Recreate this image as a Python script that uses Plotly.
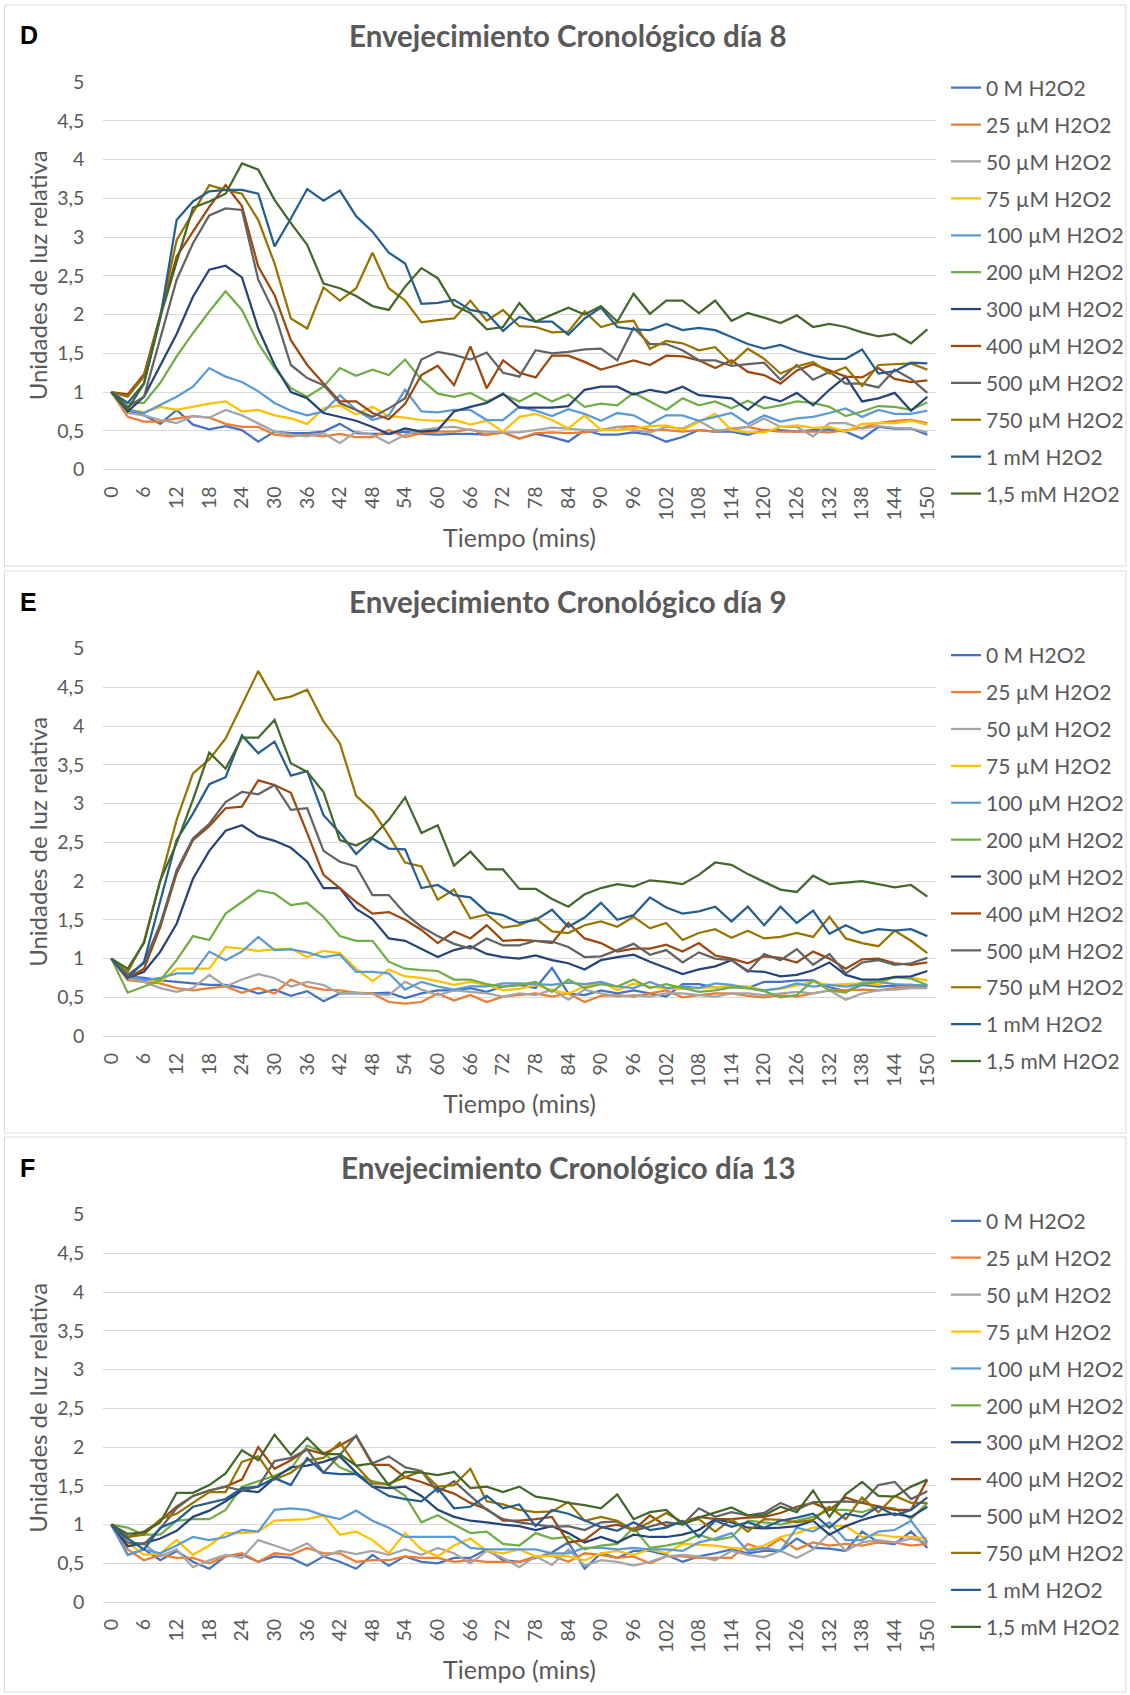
import plotly.graph_objects as go

# ---------------- data ----------------
TIME = list(range(0, 151, 3))
X_TICKS = list(range(0, 151, 6))
Y_TICKS = [0, 0.5, 1, 1.5, 2, 2.5, 3, 3.5, 4, 4.5, 5]

SERIES_NAMES = ["0 M H2O2", "25 µM H2O2", "50 µM H2O2", "75 µM H2O2", "100 µM H2O2",
                "200 µM H2O2", "300 µM H2O2", "400 µM H2O2", "500 µM H2O2",
                "750 µM H2O2", "1 mM H2O2", "1,5 mM H2O2"]
SERIES_COLORS = ["#4472C4", "#ED7D31", "#A5A5A5", "#FFC000", "#5B9BD5", "#70AD47",
                 "#264478", "#9E480E", "#636363", "#997300", "#255E91", "#43682B"]

PANEL_LETTERS = ["D", "E", "F"]
PANEL_TITLES = ["Envejecimiento Cronológico día 8",
                "Envejecimiento Cronológico día 9",
                "Envejecimiento Cronológico día 13"]
Y_TITLE = "Unidades de luz relativa"
X_TITLE = "Tiempo (mins)"

# ---- Panel D (día 8) ----
D_0M = [1.00, 0.76, 0.70, 0.59, 0.77, 0.58, 0.52, 0.56, 0.51, 0.36, 0.49, 0.47, 0.47, 0.49, 0.59, 0.47, 0.46,
        0.46, 0.49, 0.46, 0.45, 0.46, 0.46, 0.45, 0.48, 0.40, 0.46, 0.42, 0.36, 0.51, 0.45, 0.45, 0.48, 0.45,
        0.36, 0.42, 0.51, 0.49, 0.49, 0.45, 0.51, 0.51, 0.49, 0.51, 0.52, 0.49, 0.40, 0.55, 0.53, 0.53, 0.45]
D_25 = [1.00, 0.68, 0.62, 0.62, 0.66, 0.69, 0.67, 0.59, 0.55, 0.55, 0.45, 0.43, 0.45, 0.43, 0.46, 0.42, 0.42,
        0.51, 0.42, 0.47, 0.49, 0.49, 0.52, 0.45, 0.48, 0.40, 0.47, 0.48, 0.47, 0.48, 0.51, 0.55, 0.56, 0.51,
        0.51, 0.49, 0.51, 0.49, 0.53, 0.55, 0.51, 0.49, 0.49, 0.49, 0.48, 0.51, 0.54, 0.60, 0.63, 0.64, 0.60]
D_50 = [1.00, 0.73, 0.70, 0.64, 0.60, 0.69, 0.67, 0.77, 0.70, 0.60, 0.49, 0.45, 0.43, 0.47, 0.34, 0.49, 0.45,
        0.34, 0.45, 0.51, 0.54, 0.55, 0.51, 0.49, 0.48, 0.48, 0.51, 0.54, 0.53, 0.51, 0.51, 0.55, 0.51, 0.48,
        0.55, 0.53, 0.63, 0.51, 0.51, 0.55, 0.66, 0.55, 0.55, 0.43, 0.60, 0.60, 0.53, 0.56, 0.54, 0.53, 0.48]
D_75 = [1.00, 0.78, 0.74, 0.81, 0.77, 0.81, 0.85, 0.88, 0.75, 0.77, 0.70, 0.66, 0.59, 0.79, 0.83, 0.71, 0.81,
        0.69, 0.67, 0.64, 0.63, 0.64, 0.58, 0.63, 0.49, 0.68, 0.72, 0.64, 0.53, 0.70, 0.51, 0.51, 0.53, 0.56,
        0.57, 0.51, 0.62, 0.72, 0.51, 0.48, 0.48, 0.55, 0.57, 0.54, 0.55, 0.49, 0.59, 0.60, 0.60, 0.63, 0.58]
D_100 = [1.00, 0.77, 0.73, 0.83, 0.94, 1.07, 1.31, 1.20, 1.13, 1.01, 0.86, 0.76, 0.70, 0.75, 0.96, 0.77, 0.64,
         0.70, 1.03, 0.75, 0.74, 0.77, 0.77, 0.64, 0.64, 0.81, 0.76, 0.69, 0.78, 0.72, 0.63, 0.73, 0.70, 0.59,
         0.70, 0.70, 0.63, 0.68, 0.73, 0.59, 0.70, 0.62, 0.66, 0.68, 0.73, 0.79, 0.68, 0.77, 0.72, 0.72, 0.76]
D_200 = [1.00, 0.86, 0.86, 1.12, 1.46, 1.76, 2.04, 2.30, 2.06, 1.63, 1.31, 1.05, 0.94, 1.07, 1.31, 1.21, 1.29,
         1.22, 1.42, 1.16, 0.98, 0.94, 0.99, 0.88, 0.97, 0.88, 0.99, 0.88, 0.97, 0.81, 0.85, 0.83, 0.99, 0.88,
         0.77, 0.92, 0.83, 0.88, 0.79, 0.89, 0.79, 0.83, 0.88, 0.86, 0.81, 0.69, 0.75, 0.82, 0.81, 0.77, 0.87]
D_300 = [1.00, 0.75, 0.94, 1.35, 1.75, 2.23, 2.58, 2.63, 2.48, 1.82, 1.35, 1.00, 0.92, 0.73, 0.68, 0.63, 0.55,
         0.46, 0.53, 0.49, 0.51, 0.75, 0.81, 0.86, 0.98, 0.80, 0.80, 0.80, 0.82, 1.03, 1.07, 1.07, 0.97, 1.03,
         0.99, 1.07, 0.96, 0.94, 0.92, 0.77, 0.94, 0.88, 0.99, 0.83, 1.03, 1.20, 0.88, 0.92, 0.99, 0.76, 0.94]
D_400 = [1.00, 0.97, 1.23, 1.98, 2.75, 3.07, 3.39, 3.67, 3.40, 2.62, 2.25, 1.67, 1.35, 1.11, 0.88, 0.88, 0.73,
         0.65, 0.85, 1.22, 1.34, 1.09, 1.59, 1.05, 1.41, 1.25, 1.19, 1.47, 1.47, 1.39, 1.29, 1.35, 1.41, 1.35,
         1.47, 1.46, 1.41, 1.31, 1.41, 1.26, 1.22, 1.11, 1.28, 1.36, 1.28, 1.20, 1.19, 1.31, 1.17, 1.13, 1.15]
D_500 = [1.00, 0.81, 0.94, 1.71, 2.45, 2.92, 3.28, 3.37, 3.35, 2.45, 2.02, 1.35, 1.18, 1.09, 0.86, 0.77, 0.68,
         0.79, 0.92, 1.42, 1.52, 1.48, 1.42, 1.51, 1.25, 1.20, 1.54, 1.50, 1.52, 1.55, 1.56, 1.41, 1.83, 1.62,
         1.62, 1.54, 1.41, 1.41, 1.34, 1.36, 1.38, 1.16, 1.35, 1.16, 1.26, 1.11, 1.11, 1.06, 1.29, 1.17, 0.99]
D_750 = [1.00, 0.94, 1.20, 1.99, 2.96, 3.31, 3.67, 3.61, 3.56, 3.22, 2.66, 1.95, 1.82, 2.35, 2.18, 2.34, 2.80,
         2.34, 2.18, 1.90, 1.93, 1.95, 2.18, 1.92, 2.06, 1.85, 1.84, 1.77, 1.78, 2.04, 1.84, 1.90, 1.92, 1.56,
         1.66, 1.63, 1.54, 1.58, 1.37, 1.56, 1.43, 1.24, 1.33, 1.39, 1.24, 1.32, 1.08, 1.35, 1.36, 1.37, 1.29]
D_1MM = [1.00, 0.86, 1.11, 1.96, 3.22, 3.46, 3.59, 3.61, 3.61, 3.56, 2.88, 3.24, 3.62, 3.47, 3.60, 3.27, 3.07,
         2.80, 2.66, 2.14, 2.15, 2.19, 2.06, 2.02, 1.79, 1.97, 1.91, 1.91, 1.74, 1.95, 2.09, 1.84, 1.81, 1.80,
         1.88, 1.80, 1.83, 1.80, 1.71, 1.62, 1.56, 1.61, 1.53, 1.47, 1.43, 1.43, 1.55, 1.24, 1.27, 1.38, 1.37]
D_15MM = [1.00, 0.78, 1.11, 1.97, 2.68, 3.38, 3.46, 3.56, 3.95, 3.87, 3.48, 3.18, 2.90, 2.40, 2.34, 2.24, 2.11,
          2.06, 2.36, 2.60, 2.47, 2.12, 2.02, 1.81, 1.84, 2.15, 1.91, 2.00, 2.09, 2.00, 2.11, 1.91, 2.27, 2.01,
          2.18, 2.18, 2.02, 2.18, 1.92, 2.02, 1.96, 1.89, 1.99, 1.84, 1.88, 1.84, 1.77, 1.72, 1.75, 1.63, 1.81]

# ---- Panel E (día 9) ----
E_0M = [1.00, 0.77, 0.75, 0.72, 0.70, 0.68, 0.66, 0.66, 0.62, 0.55, 0.60, 0.52, 0.58, 0.45, 0.55, 0.55, 0.55,
        0.56, 0.49, 0.55, 0.59, 0.59, 0.62, 0.57, 0.64, 0.66, 0.62, 0.88, 0.55, 0.53, 0.59, 0.55, 0.59, 0.55,
        0.51, 0.67, 0.67, 0.63, 0.64, 0.62, 0.70, 0.70, 0.72, 0.72, 0.63, 0.58, 0.66, 0.64, 0.65, 0.66, 0.64]
E_25 = [1.00, 0.72, 0.70, 0.68, 0.62, 0.59, 0.62, 0.64, 0.56, 0.62, 0.55, 0.73, 0.64, 0.60, 0.59, 0.56, 0.55,
        0.44, 0.42, 0.44, 0.55, 0.46, 0.53, 0.44, 0.51, 0.53, 0.55, 0.51, 0.55, 0.44, 0.52, 0.53, 0.51, 0.55,
        0.59, 0.50, 0.53, 0.55, 0.55, 0.52, 0.50, 0.53, 0.51, 0.55, 0.59, 0.59, 0.60, 0.59, 0.62, 0.64, 0.66]
E_50 = [1.00, 0.75, 0.70, 0.62, 0.57, 0.62, 0.79, 0.64, 0.73, 0.80, 0.75, 0.64, 0.70, 0.66, 0.55, 0.56, 0.54,
        0.53, 0.70, 0.60, 0.53, 0.59, 0.57, 0.55, 0.51, 0.55, 0.53, 0.60, 0.47, 0.60, 0.55, 0.51, 0.53, 0.51,
        0.55, 0.55, 0.53, 0.51, 0.55, 0.55, 0.53, 0.55, 0.57, 0.55, 0.59, 0.47, 0.55, 0.59, 0.60, 0.62, 0.62]
E_75 = [1.00, 0.77, 0.72, 0.70, 0.87, 0.87, 0.87, 1.15, 1.13, 1.10, 1.12, 1.13, 1.02, 1.10, 1.07, 0.87, 0.71,
        0.86, 0.77, 0.75, 0.71, 0.66, 0.70, 0.66, 0.59, 0.61, 0.66, 0.59, 0.55, 0.64, 0.70, 0.59, 0.68, 0.64,
        0.61, 0.61, 0.62, 0.63, 0.64, 0.64, 0.59, 0.61, 0.66, 0.70, 0.66, 0.67, 0.68, 0.66, 0.77, 0.75, 0.72]
E_100 = [1.00, 0.77, 0.72, 0.75, 0.81, 0.81, 1.09, 0.98, 1.09, 1.28, 1.11, 1.12, 1.08, 1.02, 1.05, 0.83, 0.83,
         0.81, 0.60, 0.70, 0.64, 0.60, 0.64, 0.64, 0.68, 0.68, 0.67, 0.66, 0.69, 0.67, 0.70, 0.64, 0.62, 0.70,
         0.62, 0.64, 0.62, 0.68, 0.66, 0.62, 0.59, 0.62, 0.68, 0.64, 0.66, 0.64, 0.67, 0.70, 0.67, 0.66, 0.65]
E_200 = [1.00, 0.56, 0.64, 0.72, 0.98, 1.29, 1.24, 1.58, 1.73, 1.88, 1.84, 1.69, 1.72, 1.54, 1.29, 1.23, 1.23,
         0.96, 0.87, 0.85, 0.84, 0.73, 0.73, 0.67, 0.64, 0.66, 0.70, 0.57, 0.73, 0.62, 0.67, 0.64, 0.73, 0.62,
         0.67, 0.62, 0.57, 0.59, 0.63, 0.62, 0.58, 0.50, 0.53, 0.72, 0.59, 0.56, 0.69, 0.70, 0.76, 0.74, 0.66]
E_300 = [1.00, 0.75, 0.83, 1.09, 1.45, 2.03, 2.39, 2.65, 2.72, 2.58, 2.52, 2.43, 2.25, 1.91, 1.91, 1.64, 1.51,
         1.26, 1.23, 1.13, 1.02, 1.11, 1.16, 1.06, 1.02, 1.00, 1.04, 0.98, 0.94, 0.86, 0.98, 1.02, 1.05, 0.96,
         0.88, 0.80, 0.86, 0.90, 0.98, 0.84, 0.83, 0.77, 0.79, 0.85, 0.95, 0.79, 0.73, 0.73, 0.76, 0.77, 0.84]
E_400 = [1.00, 0.75, 0.87, 1.41, 2.10, 2.53, 2.71, 2.94, 2.96, 3.30, 3.24, 3.14, 2.62, 2.08, 1.91, 1.73, 1.58,
         1.60, 1.50, 1.37, 1.20, 1.35, 1.26, 1.43, 1.23, 1.24, 1.23, 1.20, 1.46, 1.26, 1.20, 1.09, 1.13, 1.13,
         1.18, 1.09, 1.20, 1.04, 1.00, 0.94, 1.03, 1.01, 0.95, 1.09, 1.00, 0.87, 0.99, 1.00, 0.94, 0.92, 0.95]
E_500 = [1.00, 0.79, 0.94, 1.45, 2.14, 2.55, 2.74, 3.02, 3.15, 3.12, 3.24, 2.92, 2.94, 2.39, 2.25, 2.19, 1.82,
         1.82, 1.58, 1.41, 1.29, 1.19, 1.13, 1.26, 1.17, 1.17, 1.23, 1.22, 1.15, 1.02, 1.03, 1.11, 1.19, 1.05,
         1.11, 0.95, 1.08, 1.00, 0.98, 0.83, 1.06, 0.98, 1.12, 0.92, 1.06, 0.81, 0.95, 0.98, 0.92, 0.94, 1.01]
E_750 = [1.00, 0.83, 1.22, 2.01, 2.79, 3.39, 3.57, 3.84, 4.27, 4.71, 4.34, 4.38, 4.47, 4.06, 3.78, 3.10, 2.91,
         2.59, 2.24, 2.19, 1.76, 1.89, 1.52, 1.57, 1.40, 1.43, 1.52, 1.35, 1.33, 1.43, 1.48, 1.41, 1.54, 1.39,
         1.46, 1.24, 1.33, 1.38, 1.27, 1.36, 1.26, 1.28, 1.33, 1.28, 1.54, 1.26, 1.20, 1.16, 1.36, 1.23, 1.07]
E_1MM = [1.00, 0.75, 0.96, 1.76, 2.53, 2.87, 3.25, 3.34, 3.88, 3.65, 3.80, 3.36, 3.42, 2.85, 2.62, 2.35, 2.55,
         2.42, 2.41, 1.91, 1.95, 1.82, 1.79, 1.60, 1.56, 1.46, 1.50, 1.63, 1.41, 1.53, 1.72, 1.50, 1.56, 1.79,
         1.66, 1.58, 1.61, 1.67, 1.48, 1.67, 1.43, 1.67, 1.46, 1.62, 1.32, 1.43, 1.33, 1.38, 1.36, 1.38, 1.29]
E_15MM = [1.00, 0.87, 1.20, 2.01, 2.49, 3.05, 3.66, 3.45, 3.85, 3.85, 4.08, 3.52, 3.41, 3.15, 2.53, 2.46, 2.57,
          2.79, 3.08, 2.62, 2.72, 2.20, 2.38, 2.15, 2.15, 1.90, 1.90, 1.77, 1.67, 1.83, 1.91, 1.96, 1.93, 2.01,
          1.99, 1.96, 2.08, 2.24, 2.21, 2.09, 1.99, 1.89, 1.86, 2.07, 1.96, 1.98, 2.00, 1.96, 1.92, 1.95, 1.80]

# ---- Panel F (día 13) ----
F_0M = [1.00, 0.61, 0.68, 0.54, 0.66, 0.52, 0.43, 0.59, 0.61, 0.52, 0.59, 0.57, 0.47, 0.59, 0.52, 0.43, 0.61,
        0.47, 0.59, 0.52, 0.50, 0.57, 0.57, 0.68, 0.54, 0.52, 0.57, 0.64, 0.77, 0.43, 0.63, 0.57, 0.66, 0.66,
        0.61, 0.52, 0.59, 0.63, 0.68, 0.63, 0.66, 0.66, 0.82, 0.70, 0.69, 0.66, 0.91, 0.77, 0.75, 0.91, 0.70]
F_25 = [1.00, 0.68, 0.54, 0.61, 0.57, 0.57, 0.50, 0.59, 0.63, 0.52, 0.63, 0.61, 0.70, 0.63, 0.63, 0.52, 0.54,
        0.54, 0.59, 0.57, 0.57, 0.52, 0.54, 0.52, 0.52, 0.52, 0.59, 0.60, 0.52, 0.63, 0.61, 0.57, 0.59, 0.50,
        0.59, 0.59, 0.57, 0.57, 0.57, 0.75, 0.68, 0.82, 0.68, 0.77, 0.73, 0.75, 0.73, 0.77, 0.77, 0.73, 0.75]
F_50 = [1.00, 0.73, 0.75, 0.59, 0.68, 0.45, 0.54, 0.61, 0.57, 0.80, 0.73, 0.66, 0.76, 0.59, 0.66, 0.62, 0.66,
        0.61, 0.68, 0.61, 0.70, 0.63, 0.50, 0.66, 0.57, 0.45, 0.59, 0.48, 0.68, 0.47, 0.54, 0.52, 0.47, 0.52,
        0.59, 0.61, 0.59, 0.54, 0.66, 0.61, 0.58, 0.66, 0.57, 0.68, 0.89, 0.66, 0.77, 0.80, 0.77, 0.82, 0.77]
F_75 = [1.00, 0.77, 0.61, 0.63, 0.80, 0.61, 0.73, 0.89, 0.89, 0.91, 1.05, 1.06, 1.07, 1.12, 0.87, 0.91, 0.80,
        0.63, 0.89, 0.68, 0.59, 0.73, 0.82, 0.66, 0.63, 0.68, 0.59, 0.60, 0.59, 0.54, 0.63, 0.66, 0.61, 0.68,
        0.63, 0.75, 0.74, 0.73, 0.70, 0.68, 0.73, 0.84, 0.89, 0.96, 0.98, 0.98, 0.84, 0.87, 0.84, 0.84, 0.82]
F_100 = [1.00, 0.61, 0.68, 0.63, 0.73, 0.84, 0.80, 0.84, 0.93, 0.91, 1.19, 1.21, 1.19, 1.12, 1.07, 1.18, 1.05,
         0.96, 0.84, 0.84, 0.84, 0.84, 0.70, 0.68, 0.68, 0.68, 0.68, 0.63, 0.63, 0.70, 0.70, 0.68, 0.70, 0.68,
         0.68, 0.66, 0.77, 0.82, 0.89, 0.66, 0.70, 0.66, 0.96, 0.91, 1.03, 0.80, 0.80, 0.91, 0.93, 1.05, 0.77]
F_200 = [1.00, 0.96, 0.87, 0.87, 1.05, 1.07, 1.07, 1.19, 1.49, 1.56, 1.63, 1.72, 2.02, 1.93, 1.74, 1.65, 1.56,
         1.51, 1.37, 1.03, 1.12, 1.00, 0.89, 0.91, 0.75, 0.73, 0.89, 0.82, 0.84, 0.68, 0.73, 0.75, 0.96, 0.70,
         0.73, 0.77, 0.87, 0.80, 0.84, 1.05, 1.03, 1.00, 1.05, 1.10, 1.19, 1.19, 1.16, 1.23, 1.21, 1.07, 1.28]
F_300 = [1.00, 0.72, 0.76, 0.82, 0.92, 1.10, 1.18, 1.30, 1.44, 1.42, 1.60, 1.74, 1.76, 1.81, 1.88, 1.67, 1.49,
         1.47, 1.49, 1.37, 1.19, 1.10, 1.05, 1.03, 1.00, 0.98, 0.93, 0.98, 0.89, 0.77, 0.84, 0.77, 0.87, 0.84,
         0.84, 0.87, 0.93, 1.07, 1.03, 0.96, 0.95, 0.96, 0.98, 1.05, 0.87, 0.98, 1.06, 1.12, 1.14, 1.10, 1.23]
F_400 = [1.00, 0.84, 0.91, 1.05, 1.23, 1.37, 1.44, 1.49, 1.58, 2.00, 1.72, 1.83, 1.97, 1.91, 2.02, 2.14, 1.77,
         1.77, 1.61, 1.55, 1.47, 1.40, 1.28, 1.20, 1.05, 1.05, 1.07, 1.10, 0.77, 0.80, 0.96, 1.00, 0.93, 1.12,
         0.98, 1.03, 1.10, 1.07, 1.07, 1.09, 1.10, 1.15, 1.23, 1.28, 1.19, 1.35, 1.28, 1.23, 1.19, 1.19, 1.58]
F_500 = [1.00, 0.77, 0.75, 0.95, 1.21, 1.37, 1.44, 1.49, 1.44, 1.49, 1.82, 1.86, 1.97, 1.67, 1.90, 2.15, 1.79,
         1.88, 1.74, 1.69, 1.42, 1.56, 1.37, 1.19, 1.07, 1.03, 1.00, 0.97, 0.98, 0.93, 1.03, 1.04, 0.92, 0.98,
         1.03, 1.00, 1.21, 1.10, 1.16, 1.12, 1.15, 1.28, 1.19, 1.29, 1.29, 1.30, 1.28, 1.51, 1.55, 1.33, 1.43]
F_750 = [1.00, 0.84, 0.87, 1.07, 1.14, 1.28, 1.42, 1.42, 1.81, 1.88, 1.58, 1.67, 1.83, 1.86, 2.06, 1.76, 1.53,
         1.53, 1.61, 1.69, 1.49, 1.51, 1.72, 1.30, 1.26, 1.19, 1.16, 1.17, 1.29, 1.05, 1.10, 1.05, 0.93, 1.03,
         1.15, 1.03, 1.07, 0.91, 1.07, 0.91, 1.07, 1.06, 1.03, 1.06, 1.23, 1.07, 1.35, 1.16, 1.37, 1.28, 1.28]
F_1MM = [1.00, 0.82, 0.68, 0.96, 1.05, 1.23, 1.28, 1.33, 1.47, 1.49, 1.60, 1.51, 1.86, 1.67, 1.65, 1.65, 1.49,
         1.37, 1.33, 1.30, 1.47, 1.21, 1.23, 1.37, 1.21, 1.26, 0.98, 1.19, 1.14, 1.05, 0.97, 0.92, 1.03, 0.93,
         0.96, 1.05, 0.84, 1.05, 0.97, 1.03, 0.96, 1.05, 1.09, 1.14, 0.96, 1.14, 1.10, 1.23, 1.12, 1.19, 1.35]
F_15MM = [1.00, 0.88, 0.90, 1.03, 1.41, 1.41, 1.51, 1.66, 1.96, 1.83, 2.16, 1.90, 2.12, 1.91, 1.91, 1.76, 1.79,
          1.51, 1.68, 1.67, 1.64, 1.68, 1.47, 1.49, 1.42, 1.49, 1.36, 1.33, 1.28, 1.25, 1.21, 1.39, 1.07, 1.16,
          1.19, 1.00, 1.09, 1.16, 1.22, 1.12, 1.12, 1.23, 1.16, 1.44, 1.10, 1.39, 1.55, 1.37, 1.36, 1.49, 1.58]

PANELS = [
    [D_0M, D_25, D_50, D_75, D_100, D_200, D_300, D_400, D_500, D_750, D_1MM, D_15MM],
    [E_0M, E_25, E_50, E_75, E_100, E_200, E_300, E_400, E_500, E_750, E_1MM, E_15MM],
    [F_0M, F_25, F_50, F_75, F_100, F_200, F_300, F_400, F_500, F_750, F_1MM, F_15MM],
]

# ---------------- layout geometry (pixels) ----------------
W, H = 1130, 1695
PLOT_X0, PLOT_X1 = 103.2, 935.5
PANEL_Y = [(82.1, 469.6), (648.6, 1036.1), (1214.6, 1602.1)]   # (top = 5, bottom = 0)
BOXES = [(5, 566), (571, 1133), (1137, 1692)]
LEG_FIRST = [87.5, 655.0, 1220.7]

TXT = "#595959"
FONT = "Lato"

def px(x):
    return x / W

def py(y):
    return 1 - y / H

fig = go.Figure()
layout = dict(
    width=W, height=H, margin=dict(l=0, r=0, t=0, b=0, pad=0, autoexpand=False),
    paper_bgcolor="white", plot_bgcolor="white",
    separators=",.", showlegend=True,
    font=dict(family=FONT, color=TXT, size=18),
)
annotations = []
shapes = []

for p in range(3):
    sfx = "" if p == 0 else str(p + 1)
    top, bot = PANEL_Y[p]
    leg_name = "legend" + sfx
    for k, vals in enumerate(PANELS[p]):
        fig.add_trace(go.Scatter(
            x=TIME, y=vals, mode="lines", name=SERIES_NAMES[k],
            line=dict(color=SERIES_COLORS[k], width=2.25),
            xaxis="x" + sfx, yaxis="y" + sfx,
            legend=leg_name, legendgroup=f"g{p}_{k:02d}",
            hoverinfo="skip",
        ))
    layout["xaxis" + sfx] = dict(
        domain=[px(PLOT_X0), px(PLOT_X1)], range=[-1.5, 151.5], anchor="y" + sfx,
        tickmode="array", tickvals=X_TICKS, ticktext=[str(t) for t in X_TICKS],
        tickangle=-90, showgrid=False, zeroline=False, showline=False, automargin=False,
        ticks="", ticklabelstandoff=12,
        tickfont=dict(family=FONT, size=19.5, color=TXT), fixedrange=True,
    )
    layout["yaxis" + sfx] = dict(
        domain=[py(bot), py(top)], range=[0, 5], anchor="x" + sfx,
        tickmode="array", tickvals=Y_TICKS, automargin=False,
        showgrid=True, gridcolor="#D9D9D9", gridwidth=1,
        zeroline=True, zerolinecolor="#D9D9D9", zerolinewidth=1, showline=False,
        ticks="", ticklabelstandoff=18,
        tickfont=dict(family=FONT, size=19.5, color=TXT), fixedrange=True,
    )
    layout[leg_name] = dict(
        x=px(946), xanchor="left", y=py(LEG_FIRST[p] - 20), yanchor="top",
        font=dict(family=FONT, size=21, color=TXT), bgcolor="rgba(0,0,0,0)",
        tracegroupgap=6.6, itemwidth=30, traceorder="grouped",
    )
    title_y = top - 47
    annotations.append(dict(text="<b>" + PANEL_TITLES[p] + "</b>", x=px(568), y=py(title_y),
                            xref="paper", yref="paper", showarrow=False, xanchor="center", yanchor="middle",
                            font=dict(family=FONT, size=29.5, color=TXT)))
    annotations.append(dict(text="<b>" + PANEL_LETTERS[p] + "</b>", x=px(18), y=py(title_y),
                            xref="paper", yref="paper", showarrow=False, xanchor="left", yanchor="middle",
                            font=dict(family="Liberation Sans", size=25, color="black")))
    annotations.append(dict(text=Y_TITLE, x=px(37.5), y=py((top + bot) / 2), textangle=-90,
                            xref="paper", yref="paper", showarrow=False, xanchor="center", yanchor="middle",
                            font=dict(family=FONT, size=24, color=TXT)))
    annotations.append(dict(text=X_TITLE, x=px((PLOT_X0 + PLOT_X1) / 2), y=py(bot + 67),
                            xref="paper", yref="paper", showarrow=False, xanchor="center", yanchor="middle",
                            font=dict(family=FONT, size=25, color=TXT)))
    b0, b1 = BOXES[p]
    shapes.append(dict(type="rect", xref="paper", yref="paper", x0=px(4.5), x1=px(1126),
                       y0=py(b1), y1=py(b0), line=dict(color="#D9D9D9", width=1), layer="below"))

layout["annotations"] = annotations
layout["shapes"] = shapes
fig.update_layout(**layout)

fig.write_html("out.html", include_plotlyjs=True, full_html=True,
               config={"displayModeBar": False, "staticPlot": True},
               post_script="document.body.style.margin='0px';document.body.style.overflow='hidden';")
